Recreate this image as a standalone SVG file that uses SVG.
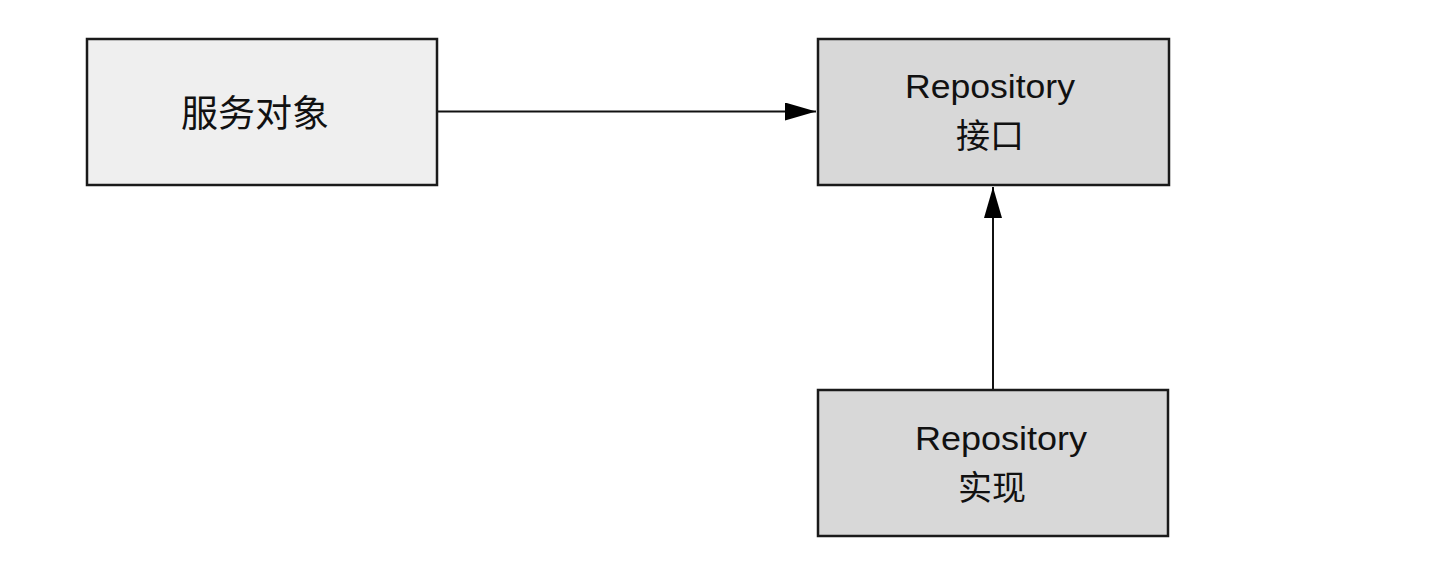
<svg xmlns="http://www.w3.org/2000/svg" width="1444" height="570" viewBox="0 0 1444 570">
<style>
.box{stroke:#1a1a1a;stroke-width:2.5}
.light{fill:#efefef}
.dark{fill:#d8d8d8}
.lat{font-family:"Liberation Sans",Arial,sans-serif;font-size:33px;fill:#111;text-anchor:middle}
.cjk{font-family:"Noto Sans CJK SC","Liberation Sans",sans-serif;fill:#111;text-anchor:middle}
.conn{stroke:#111;stroke-width:2;fill:none}
</style>
<defs>
<marker id="arr" markerUnits="userSpaceOnUse" markerWidth="32" markerHeight="20" refX="31" refY="9" orient="auto">
<path d="M0,0 L31,9 L0,18 Z" fill="#000"/>
</marker>
</defs>
<rect width="1444" height="570" fill="#fff"/>
<g id="connectors">
<line class="conn" x1="438" y1="111.5" x2="816" y2="111.5" marker-end="url(#arr)"/>
<line class="conn" x1="993" y1="390" x2="993" y2="187" marker-end="url(#arr)"/>
</g>
<g id="service">
<rect class="box light" x="87" y="39" width="350" height="146"/>
<text class="cjk" x="255" y="127" font-size="37">服务对象</text>
</g>
<g id="repo-interface">
<rect class="box dark" x="818" y="39" width="351" height="146"/>
<text class="lat" x="990" y="98" textLength="170" lengthAdjust="spacingAndGlyphs">Repository</text>
<text class="cjk" x="990" y="148" font-size="34">接口</text>
</g>
<g id="repo-impl">
<rect class="box dark" x="818" y="390" width="350" height="146"/>
<text class="lat" x="1001" y="450" textLength="172" lengthAdjust="spacingAndGlyphs">Repository</text>
<text class="cjk" x="992" y="500" font-size="34">实现</text>
</g>
</svg>
